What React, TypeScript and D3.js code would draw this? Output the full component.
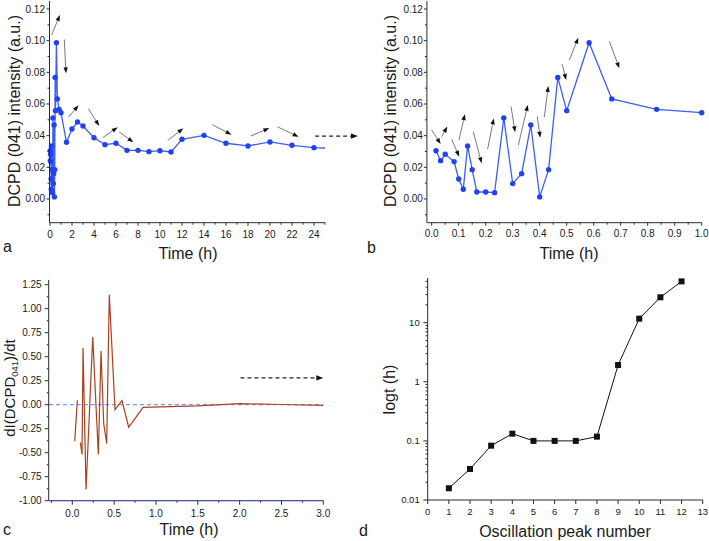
import React from "react";
import * as d3 from "d3";

// ---------- data ----------
// Panel b (and first hour of panel a): time (h) vs DCPD (041) intensity
const earlyTime = [0.016, 0.033, 0.05, 0.083, 0.1, 0.117, 0.133, 0.15, 0.167, 0.2, 0.233, 0.267, 0.3, 0.333, 0.367, 0.4, 0.433, 0.467, 0.5, 0.583, 0.667, 0.833, 1.0];
const earlyIntensity = [0.0305, 0.0242, 0.0282, 0.0236, 0.0126, 0.0061, 0.0335, 0.0185, 0.0044, 0.0044, 0.004, 0.0512, 0.0097, 0.016, 0.0467, 0.0013, 0.0185, 0.0768, 0.0558, 0.0987, 0.0632, 0.0566, 0.0545];
// Panel a after 1 h
const lateTime = [1.5, 2, 2.5, 3, 4, 5, 6, 7, 8, 9, 10, 11, 12, 14, 16, 18, 20, 22, 24, 26];
const lateIntensity = [0.0358, 0.0442, 0.0486, 0.0461, 0.0387, 0.0343, 0.0352, 0.0307, 0.0307, 0.0299, 0.0305, 0.0297, 0.0377, 0.0402, 0.0352, 0.0335, 0.036, 0.0339, 0.0324, 0.032];

// Panel c: derivative dI/dt (NaN = gap in line)
const rateTime = [0.029, 0.06, 0.078, 0.096, 0.116, 0.128, 0.164, 0.244, 0.311, 0.343, 0.375, 0.411, 0.442, 0.51, 0.594, 0.674, 0.845, 1.5, 2.0, 2.5, 3.0];
const rateValue = [-0.38, 0.046, NaN, -0.394, -0.519, 0.594, -0.883, 0.705, -0.519, 0.559, -0.196, -0.405, 1.146, -0.05, 0.043, -0.235, -0.027, -0.012, 0.011, 0.002, -0.006];

// Panel d: oscillation peak number vs time (h)
const peakNumber = [1, 2, 3, 4, 5, 6, 7, 8, 9, 10, 11, 12];
const peakTime = [0.0158, 0.0335, 0.083, 0.1325, 0.1, 0.1, 0.1, 0.118, 1.92, 11.7, 26.9, 50];

// Annotation arrows [t1, v1, t2, v2] in data units
const arrowsA = [
  [0.15, 0.1036, 0.9, 0.1162],
  [1.3, 0.1008, 1.45, 0.0794],
  [1.67, 0.0516, 2.6, 0.0592],
  [3.48, 0.057, 4.48, 0.0461],
  [4.79, 0.0387, 6.15, 0.0453],
  [6.3, 0.0423, 7.58, 0.0358],
  [10.7, 0.037, 12.12, 0.0446],
  [14.76, 0.0469, 16.5, 0.0406],
  [18.27, 0.0398, 19.94, 0.0448],
  [20.7, 0.0455, 22.6, 0.0393],
];
const dashedArrowA = [24.1, 0.0397, 28.0, 0.0397];
const arrowsB = [
  [0.0, 0.0436, 0.0333, 0.0347],
  [0.037, 0.0394, 0.058, 0.0457],
  [0.074, 0.0377, 0.102, 0.0267],
  [0.101, 0.0373, 0.123, 0.0535],
  [0.154, 0.0425, 0.185, 0.0225],
  [0.207, 0.0314, 0.23, 0.0509],
  [0.294, 0.0583, 0.309, 0.0421],
  [0.321, 0.0341, 0.356, 0.0594],
  [0.391, 0.052, 0.402, 0.0387],
  [0.417, 0.0516, 0.432, 0.0714],
  [0.483, 0.0853, 0.498, 0.0752],
  [0.51, 0.0878, 0.543, 0.1019],
  [0.658, 0.0996, 0.695, 0.0825],
];
const dashedArrowC = [2.01, 0.279, 3.0, 0.279];

// Tick values
const ticksIntensity = [0, 0.02, 0.04, 0.06, 0.08, 0.1, 0.12];
const minorIntensity = [-0.01, 0.01, 0.03, 0.05, 0.07, 0.09, 0.11];
const ticksTimeA = [0, 2, 4, 6, 8, 10, 12, 14, 16, 18, 20, 22, 24];
const minorTimeA = [1, 3, 5, 7, 9, 11, 13, 15, 17, 19, 21, 23, 25];
const ticksTimeB = [0, 0.1, 0.2, 0.3, 0.4, 0.5, 0.6, 0.7, 0.8, 0.9, 1.0];
const minorTimeB = [0.05, 0.15, 0.25, 0.35, 0.45, 0.55, 0.65, 0.75, 0.85, 0.95];
const ticksRate = [-1, -0.75, -0.5, -0.25, 0, 0.25, 0.5, 0.75, 1, 1.25];
const minorRate = [-0.875, -0.625, -0.375, -0.125, 0.125, 0.375, 0.625, 0.875, 1.125];
const ticksTimeC = [0, 0.5, 1, 1.5, 2, 2.5, 3];
const minorTimeC = [-0.25, 0.25, 0.75, 1.25, 1.75, 2.25, 2.75];
const ticksPeak = [0, 1, 2, 3, 4, 5, 6, 7, 8, 9, 10, 11, 12, 13];
const ticksLogT = [0.01, 0.1, 1, 10];
const logLabels = ["0.01", "0.1", "1", "10"];

// ---------- style ----------
const FONT = "'Liberation Sans', Arial, Helvetica, sans-serif";
const AXIS = "#2b2b2b";
const TXT = "#1a1a1a";
const BLUE_PT = "#2242f2";
const BLUE_LN = "#3d5ef6";

type Sc = (v: number) => number;

function YAxis({ scale, x, major, minor, fmt, tick, minorTick, gap, fs }: any) {
  const r = scale.range();
  return (
    <g>
      <line x1={x} x2={x} y1={r[0]} y2={r[1]} stroke={AXIS} strokeWidth={1} />
      {minor.map((v: number) => (
        <line key={"m" + v} x1={x - minorTick} x2={x} y1={scale(v)} y2={scale(v)} stroke={AXIS} strokeWidth={1} />
      ))}
      {major.map((v: number, i: number) => (
        <g key={"M" + v}>
          <line x1={x - tick} x2={x} y1={scale(v)} y2={scale(v)} stroke={AXIS} strokeWidth={1} />
          <text x={x - gap} y={scale(v)} dy="0.35em" textAnchor="end" fontSize={fs} fill={TXT} fontFamily={FONT}>
            {fmt(v, i)}
          </text>
        </g>
      ))}
    </g>
  );
}

function XAxis({ scale, y, major, minor, fmt, tick, minorTick, off, fs }: any) {
  const r = scale.range();
  return (
    <g>
      <line x1={r[0]} x2={r[1]} y1={y} y2={y} stroke={AXIS} strokeWidth={1} />
      {minor.map((v: number) => (
        <line key={"m" + v} x1={scale(v)} x2={scale(v)} y1={y} y2={y + minorTick} stroke={AXIS} strokeWidth={1} />
      ))}
      {major.map((v: number, i: number) => (
        <g key={"M" + v}>
          <line x1={scale(v)} x2={scale(v)} y1={y} y2={y + tick} stroke={AXIS} strokeWidth={1} />
          <text x={scale(v)} y={y + off} textAnchor="middle" fontSize={fs} fill={TXT} fontFamily={FONT}>
            {fmt(v, i)}
          </text>
        </g>
      ))}
    </g>
  );
}

function Arrow({ x1, y1, x2, y2, dashed }: any) {
  const ang = Math.atan2(y2 - y1, x2 - x1);
  const L = dashed ? 7 : 6;
  const W = dashed ? 2.6 : 2.2;
  const bx = x2 - L * Math.cos(ang);
  const by = y2 - L * Math.sin(ang);
  const px = -Math.sin(ang) * W;
  const py = Math.cos(ang) * W;
  return (
    <g>
      <line
        x1={x1}
        y1={y1}
        x2={bx}
        y2={by}
        stroke={dashed ? "#222" : "#6a6a6a"}
        strokeWidth={dashed ? 1.3 : 0.9}
        strokeDasharray={dashed ? "4,3" : undefined}
      />
      <path d={`M${x2},${y2}L${bx + px},${by + py}L${bx - px},${by - py}Z`} fill="#111" />
    </g>
  );
}

function YTitle({ x, y, children, fs }: any) {
  return (
    <text transform={`translate(${x},${y}) rotate(-90)`} textAnchor="middle" fontSize={fs} fill={TXT} fontFamily={FONT}>
      {children}
    </text>
  );
}

export default function App() {
  // ---- panel a ----
  const xa = d3.scaleLinear().domain([0, 25]).range([50, 325]);
  const ya = d3.scaleLinear().domain([-0.015, 0.125]).range([222.7, 1.1]);
  const aT = earlyTime.concat(lateTime);
  const aI = earlyIntensity.concat(lateIntensity);
  const aPts = aT.map((t, i) => [t, aI[i]] as [number, number]);
  const lineA = d3.line<[number, number]>().x((d) => xa(d[0])).y((d) => ya(d[1]));

  // ---- panel b ----
  const xb = d3.scaleLinear().domain([-0.017, 1.0]).range([427.1, 701.7]);
  const yb = ya;
  const bPts = earlyTime.map((t, i) => [t, earlyIntensity[i]] as [number, number]);
  const lineB = d3.line<[number, number]>().x((d) => xb(d[0])).y((d) => yb(d[1]));

  // ---- panel c ----
  const xc = d3.scaleLinear().domain([-0.28, 3.0]).range([48.9, 323.3]);
  const yc = d3.scaleLinear().domain([-1, 1.3]).range([500.7, 279.9]);
  const cPts = rateTime.map((t, i) => [t, rateValue[i]] as [number, number]);
  const lineC = d3
    .line<[number, number]>()
    .defined((d) => !isNaN(d[1]))
    .x((d) => xc(d[0]))
    .y((d) => yc(d[1]));

  // ---- panel d ----
  const xd = d3.scaleLinear().domain([0, 13]).range([427.7, 702.7]);
  const yd = d3.scaleLog().domain([0.01, 57]).range([500, 278]);
  const dPts = peakNumber.map((n, i) => [n, peakTime[i]] as [number, number]);
  const lineD = d3.line<[number, number]>().x((d) => xd(d[0])).y((d) => yd(d[1]));
  const minorLog: number[] = [];
  [0.01, 0.1, 1, 10].forEach((dec) => {
    for (let k = 2; k <= 9; k++) {
      const v = dec * k;
      if (v <= 57) minorLog.push(v);
    }
  });

  const f2 = (v: number) => v.toFixed(2);
  const f1 = (v: number) => v.toFixed(1);
  const f0 = (v: number) => String(v);

  return (
    <svg
      width={709}
      height={541}
      viewBox="0 0 709 541"
      style={{ position: "absolute", left: 0, top: 0, background: "#fff" }}
      fontFamily={FONT}
    >
      <defs>
        <clipPath id="clipA">
          <rect x={40} y={0} width={285} height={224} />
        </clipPath>
      </defs>

      {/* ===== Panel a ===== */}
      <g clipPath="url(#clipA)">
        <path d={lineA(aPts) || ""} fill="none" stroke={BLUE_LN} strokeWidth={1.3} />
        {aPts.map((d, i) => (
          <circle key={i} cx={xa(d[0])} cy={ya(d[1])} r={2.7} fill={BLUE_PT} />
        ))}
      </g>
      {arrowsA.map((a, i) => (
        <Arrow key={i} x1={xa(a[0])} y1={ya(a[1])} x2={xa(a[2])} y2={ya(a[3])} />
      ))}
      <Arrow dashed x1={xa(dashedArrowA[0])} y1={ya(dashedArrowA[1])} x2={xa(dashedArrowA[2])} y2={ya(dashedArrowA[3])} />
      <YAxis scale={ya} x={49.5} major={ticksIntensity} minor={minorIntensity} fmt={f2} tick={3} minorTick={2} gap={4.5} fs={10} />
      <XAxis scale={xa} y={222.7} major={ticksTimeA} minor={minorTimeA} fmt={f0} tick={3} minorTick={2} off={14.8} fs={10} />
      <YTitle x={19.5} y={111} fs={16}>DCPD (041) intensity (a.u.)</YTitle>
      <text x={188} y={259} textAnchor="middle" fontSize={16} fill={TXT}>Time (h)</text>
      <text x={3} y={252} fontSize={16} fill={TXT}>a</text>

      {/* ===== Panel b ===== */}
      <path d={lineB(bPts) || ""} fill="none" stroke={BLUE_LN} strokeWidth={1.3} />
      {bPts.map((d, i) => (
        <circle key={i} cx={xb(d[0])} cy={yb(d[1])} r={2.7} fill={BLUE_PT} />
      ))}
      {arrowsB.map((a, i) => (
        <Arrow key={i} x1={xb(a[0])} y1={yb(a[1])} x2={xb(a[2])} y2={yb(a[3])} />
      ))}
      <YAxis scale={yb} x={426.9} major={ticksIntensity} minor={minorIntensity} fmt={f2} tick={3} minorTick={2} gap={4} fs={10} />
      <XAxis scale={xb} y={222.7} major={ticksTimeB} minor={minorTimeB} fmt={f1} tick={3} minorTick={2} off={14} fs={10} />
      <YTitle x={396} y={111} fs={16}>DCPD (041) intensity (a.u.)</YTitle>
      <text x={569} y={259} textAnchor="middle" fontSize={16} fill={TXT}>Time (h)</text>
      <text x={367} y={253} fontSize={16} fill={TXT}>b</text>

      {/* ===== Panel c ===== */}
      <line x1={xc(-0.28)} x2={xc(3.0)} y1={yc(0)} y2={yc(0)} stroke="#5b7cff" strokeWidth={1} strokeDasharray="4,3" />
      <path d={lineC(cPts) || ""} fill="none" stroke="#a8421e" strokeWidth={1.2} />
      <Arrow dashed x1={xc(dashedArrowC[0])} y1={yc(dashedArrowC[1])} x2={xc(dashedArrowC[2])} y2={yc(dashedArrowC[3])} />
      <YAxis scale={yc} x={48.7} major={ticksRate} minor={minorRate} fmt={f2} tick={4} minorTick={2} gap={7} fs={10} />
      <XAxis scale={xc} y={500.7} major={ticksTimeC} minor={minorTimeC} fmt={f1} tick={4} minorTick={2} off={15.8} fs={10} />
      <line x1={xc(-0.28)} x2={xc(3.0)} y1={500.7} y2={500.7} stroke="#4a5fd8" strokeWidth={1} opacity={0.6} />
      <text transform={`translate(14.5,388) rotate(-90)`} textAnchor="middle" fontSize={15} fill={TXT}>
        dI(DCPD<tspan fontSize={9.5} dy={3.5}>041</tspan>
        <tspan dy={-3.5}>)/dt</tspan>
      </text>
      <text x={189} y={535} textAnchor="middle" fontSize={16} fill={TXT}>Time (h)</text>
      <text x={3} y={535} fontSize={16} fill={TXT}>c</text>

      {/* ===== Panel d ===== */}
      <path d={lineD(dPts) || ""} fill="none" stroke="#111" strokeWidth={1} />
      {dPts.map((d, i) => (
        <rect key={i} x={xd(d[0]) - 3} y={yd(d[1]) - 3} width={6} height={6} fill="#111" />
      ))}
      <YAxis scale={yd} x={427.7} major={ticksLogT} minor={minorLog} fmt={(v: number, i: number) => logLabels[i]} tick={4.3} minorTick={2.2} gap={8} fs={9.5} />
      <XAxis scale={xd} y={500} major={ticksPeak} minor={[]} fmt={f0} tick={4} minorTick={2} off={14.5} fs={9.5} />
      <YTitle x={395} y={389.5} fs={16}>logt (h)</YTitle>
      <text x={565} y={536.5} textAnchor="middle" fontSize={16} fill={TXT}>Oscillation peak number</text>
      <text x={359} y={536} fontSize={16} fill={TXT}>d</text>
    </svg>
  );
}
